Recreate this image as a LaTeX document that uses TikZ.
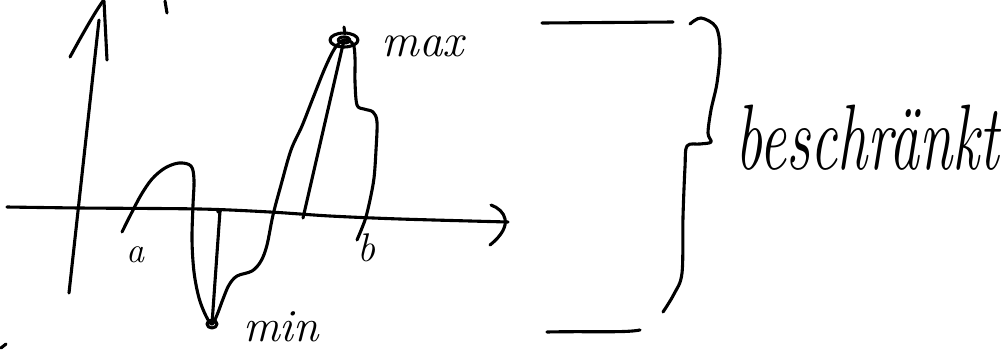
\documentclass[tikz,border=0pt]{standalone}
\usetikzlibrary{calc}
\begin{document}
\begin{tikzpicture}[x=1pt,y=-1pt,
  ink/.style={line width=3.1pt,line cap=round,line join=round,black},
  hand/.style={font=\fontsize{#1}{#1}\selectfont\itshape,inner sep=0pt,anchor=center},
]
\useasboundingbox (0,0) rectangle (1001,349);
% coordinates
\coordinate (ybot) at (69,293);
\coordinate (ytop) at (99,20);
\coordinate (xleft) at (7,207);
\coordinate (xright) at (508,222);
\coordinate (amin) at (212,324);
\coordinate (amax) at (344,40);
\coordinate (minfoot) at (220,211);
\coordinate (maxfoot) at (303,218);
% y axis
\draw[ink] (ybot) -- (ytop);
\draw[ink] (70,57) .. controls (82,35) and (95,12) .. (103,1);
\draw[ink] (107,60) -- (104,1);
% x axis
\draw[ink] plot[smooth,tension=0.5] coordinates {(xleft) (80,208) (200,209) (270,212) (330,216) (400,219) (xright)};
\draw[ink] (491,205) .. controls (505,210) and (515,225) .. (490,245);
% function
\draw[ink] plot[smooth,tension=0.55] coordinates {
 (122,232) (131,214) (141,195) (152,179) (165,168) (179,163) (191,166) (194,180)
 (193,205) (192,240) (194,272) (199,298) (206,316) (amin)
 (217,315) (223,299) (229,285) (237,276) (252,271) (261,261) (267,245) (273,215)
 (281,185) (291,150) (302,126) (313,98) (325,68) (335,48) (amax)
 (353,44) (355,58) (355,82) (357,105) (364,109) (373,112) (377,122) (376,150)
 (374,178) (370,200) (365,220) (357,240)};
% vertical markers
\draw[ink] (amin) -- (minfoot);
\draw[ink] ($(minfoot)+(-1,0)$) circle (1.5);
\draw[ink] (amax) -- (maxfoot);
% extremum markers
\draw[ink] (amin) ellipse (5 and 4);
\draw[ink] (amax) ellipse (14 and 7);
\draw[ink] (amax) ellipse (6 and 3);
\draw[ink] (344,27) -- (345,34);
% labels
\node[hand=36] (la) at (135,255) {a};
\node[hand=40] (lb) at (366,248) {b};
\node[hand=47] (lmax) at (423,46) {max};
\node[hand=46] (lmin) at (281,327) {min};
% right side
\draw[ink] (542,23) -- (673,22);
\draw[ink] (547,332) .. controls (590,331) and (625,333) .. (640,330);
\draw[ink] plot[smooth,tension=0.55] coordinates {
 (690,24) (701,18) (716,27) (720,50) (717,83) (711,110) (708,133) (711,142)
 (700,144) (687,146) (685,167) (683,217) (682,273) (674,294) (663,312)};
\node[hand=60,yscale=1.55,transform shape] (lb2) at (867,138) {beschränkt};
% cut-off fragments
\draw[ink] (165,1) -- (167,13);
\draw[ink] (1,348) -- (6,344);
\end{tikzpicture}
\end{document}
